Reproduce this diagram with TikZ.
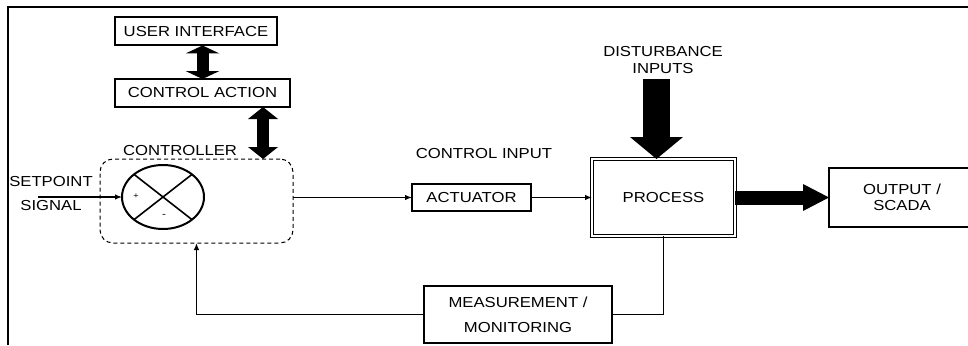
\documentclass[tikz,border=0pt]{standalone}
\usepackage{fontspec}
\setmainfont{Liberation Sans}[FakeStretch=1.15]
\usetikzlibrary{arrows.meta}
\usetikzlibrary{calc}
\usetikzlibrary{shapes.geometric}
\tikzset{>={Latex[length=7pt,width=5.5pt]}}
\tikzset{
  block/.style={draw,line width=2pt,inner sep=0pt,outer sep=0pt,align=center},
  tag/.style={inner sep=0pt,align=center},
  signal/.style={->,line width=1.2pt},
  wire/.style={line width=1.3pt},
  big arrow/.style n args={3}{line width=#1,
    -{Triangle[width=#2,length=#3,line width=0pt]}},
  big double/.style n args={3}{line width=#1,
    {Triangle[width=#2,length=#3,line width=0pt]}-{Triangle[width=#2,length=#3,line width=0pt]}}
}

\begin{document}
\begin{tikzpicture}[x=1pt,y=-1pt,font=\fontsize{14.5}{17}\selectfont]
  \useasboundingbox (0,0) rectangle (968,345);
  \coordinate (spin) at (38,197);   % setpoint enters here
  \coordinate (link) at (263,0);    % x of the action <-> controller arrow
  \coordinate (distin) at (656.5,79); % disturbance arrow start

  % FRAME
  \draw[line width=1.6pt] (8,345) -- (8,7) -- (968,7);

  % BLOCKS
  \node[block,minimum width=162pt,minimum height=28pt] (ui) at (196,31.5) {USER INTERFACE};
  \node[block,minimum width=175pt,minimum height=28pt] (ca) at (202.5,93) {CONTROL ACTION};
  \node[draw,dashed,dash pattern=on 4pt off 3pt,line width=1pt,rounded corners=13pt,
        minimum width=193pt,minimum height=84pt,outer sep=0pt] (ctrl) at (196.5,201) {};
  \node[tag] (ctrllbl) at (180,151) {CONTROLLER};
  \node[ellipse,draw,line width=2pt,minimum width=82pt,minimum height=64pt,
        inner sep=0pt,outer sep=0pt] (sum) at (163,197) {};
  \node[block,minimum width=119pt,minimum height=27pt] (actu) at (471.5,197.5) {ACTUATOR};
  \node[draw,double,double distance=1.3pt,line width=1pt,minimum width=143pt,
        minimum height=77pt,outer sep=0pt] (proc) at (663.5,197.5) {PROCESS};
  \node[block,minimum width=146pt,minimum height=59pt,anchor=west] (out) at (829,197.5)
       {OUTPUT /\\[-1pt]SCADA};
  \node[block,minimum width=188pt,minimum height=57pt] (meas) at (518,314.5)
       {MEASUREMENT /\\[8pt]MONITORING};

  % SUMMING JUNCTION
  \draw[line width=1.6pt] (sum.north east) -- (sum.south west);
  \draw[line width=1.6pt] (sum.north west) -- (sum.south east);
  \node[tag,font=\fontsize{8}{8}\selectfont] (plus) at (136,196) {+};
  \node[tag,font=\fontsize{10}{10}\selectfont] (minus) at (164,216) {-};

  % LABELS
  \node[tag] (sp) at (51,194) {SETPOINT\\[7pt]SIGNAL};
  \node[tag] (cilbl) at (484,154) {CONTROL INPUT};
  \node[tag] (dist) at (663,60) {DISTURBANCE\\INPUTS};

  % SIGNALS
  \draw[signal] (spin) -- (sum.west);
  \draw[signal] (ctrl.east |- actu.west) -- (actu.west);
  \draw[signal] (actu.east) -- (proc.west);
  \draw[wire] (proc.south) |- (meas.east);
  \draw[signal] (meas.west) -| (ctrl.south);

  % FAT ARROWS
  \draw[big double={12pt}{34pt}{8pt}] (ca.north) -- (ca.north |- ui.south);
  \draw[big double={12pt}{30pt}{12pt}] (ca.south -| link) -- (ctrl.north -| link);
  \draw[big arrow={27pt}{53pt}{22pt}] (distin) -- (distin |- proc.north);
  \draw[big arrow={14pt}{27pt}{26pt}] (proc.east) -- (out.west);
\end{tikzpicture}
\end{document}
